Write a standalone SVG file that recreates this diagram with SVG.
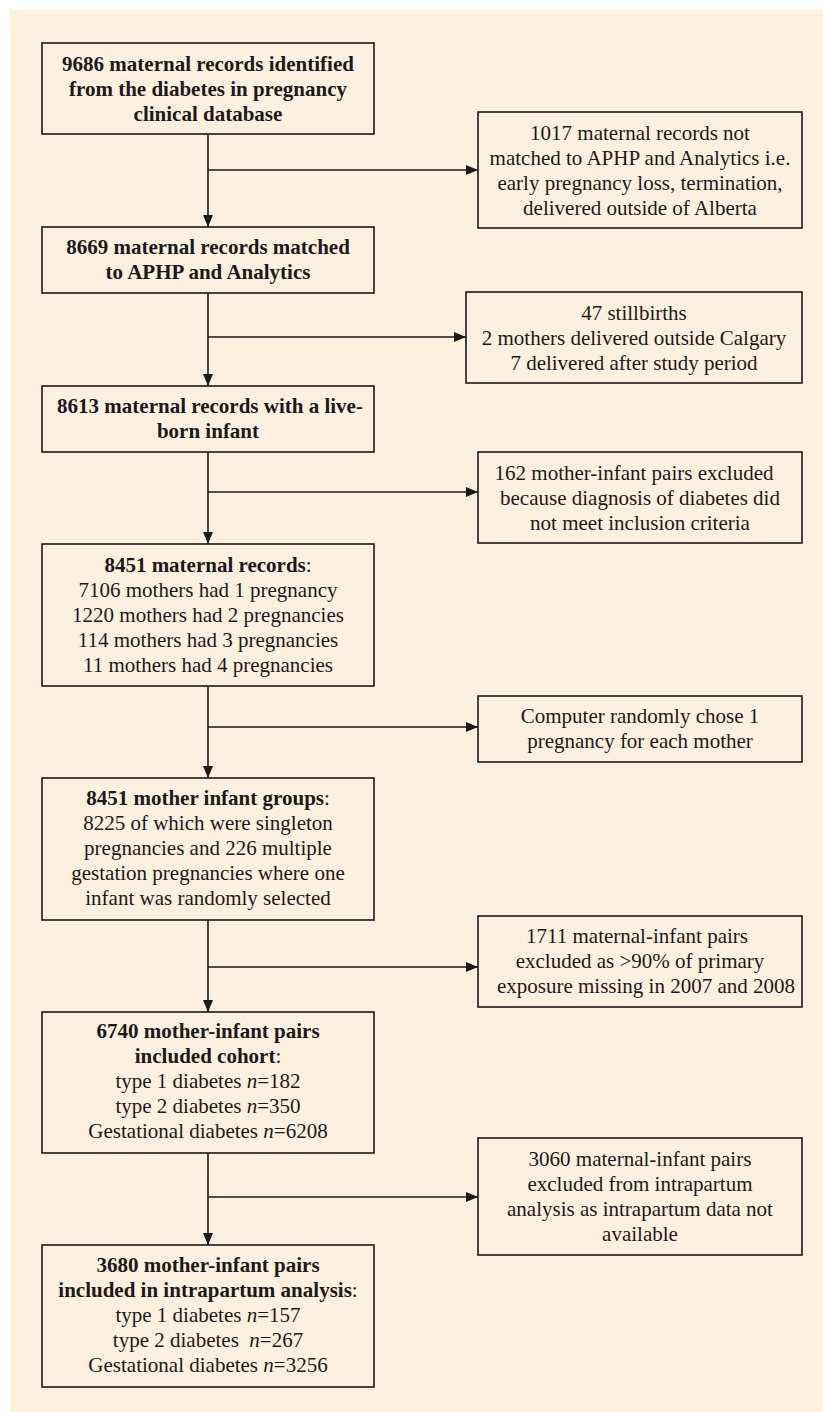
<svg xmlns="http://www.w3.org/2000/svg" width="823" height="1412" viewBox="0 0 823 1412">
<style>
.box{fill:#FDF0DF;stroke:#1a1a1a;stroke-width:1.6}
.t{font-family:"Liberation Serif","Times New Roman",serif;font-size:21px;fill:#1a1a1a;text-anchor:middle}
.b{font-weight:bold}
.i{font-style:italic}
.c{stroke:#1a1a1a;stroke-width:1.6;fill:none}
</style>
<defs>
<marker id="ah" markerUnits="userSpaceOnUse" markerWidth="12" markerHeight="10" refX="12" refY="5" orient="auto">
<path d="M0,0 L12,5 L0,10 z" fill="#1a1a1a"/>
</marker>
</defs>
<rect x="10" y="10" width="813" height="1402" fill="#FDF0DF"/>
<g id="connectors">
<line class="c" x1="208" y1="134" x2="208" y2="227" marker-end="url(#ah)"/>
<line class="c" x1="208" y1="170" x2="478" y2="170" marker-end="url(#ah)"/>
<line class="c" x1="208" y1="293" x2="208" y2="386" marker-end="url(#ah)"/>
<line class="c" x1="208" y1="337" x2="466" y2="337" marker-end="url(#ah)"/>
<line class="c" x1="208" y1="452" x2="208" y2="544" marker-end="url(#ah)"/>
<line class="c" x1="208" y1="492" x2="478" y2="492" marker-end="url(#ah)"/>
<line class="c" x1="208" y1="686" x2="208" y2="778" marker-end="url(#ah)"/>
<line class="c" x1="208" y1="727" x2="478" y2="727" marker-end="url(#ah)"/>
<line class="c" x1="208" y1="920" x2="208" y2="1012" marker-end="url(#ah)"/>
<line class="c" x1="208" y1="967" x2="478" y2="967" marker-end="url(#ah)"/>
<line class="c" x1="208" y1="1153" x2="208" y2="1245" marker-end="url(#ah)"/>
<line class="c" x1="208" y1="1197" x2="478" y2="1197" marker-end="url(#ah)"/>
</g>
<g id="n1">
<rect class="box" x="42" y="43" width="332" height="91"/>
<text class="t b" x="208" y="71">9686 maternal records identified</text>
<text class="t b" x="208" y="96">from the diabetes in pregnancy</text>
<text class="t b" x="208" y="121">clinical database</text>
</g>
<g id="n2">
<rect class="box" x="42" y="227" width="332" height="66"/>
<text class="t b" x="208" y="254">8669 maternal records matched</text>
<text class="t b" x="208" y="279">to APHP and Analytics</text>
</g>
<g id="n3">
<rect class="box" x="42" y="386" width="332" height="66"/>
<text class="t b" x="210" y="413">8613 maternal records with a live-</text>
<text class="t b" x="208" y="438">born infant</text>
</g>
<g id="n4">
<rect class="box" x="42" y="544" width="332" height="142"/>
<text class="t" x="208" y="572"><tspan class="b">8451 maternal records</tspan>:</text>
<text class="t" x="208" y="597">7106 mothers had 1 pregnancy</text>
<text class="t" x="208" y="622">1220 mothers had 2 pregnancies</text>
<text class="t" x="208" y="647">114 mothers had 3 pregnancies</text>
<text class="t" x="208" y="672">11 mothers had 4 pregnancies</text>
</g>
<g id="n5">
<rect class="box" x="42" y="778" width="332" height="142"/>
<text class="t" x="208" y="805"><tspan class="b">8451 mother infant groups</tspan>:</text>
<text class="t" x="208" y="830">8225 of which were singleton</text>
<text class="t" x="208" y="855">pregnancies and 226 multiple</text>
<text class="t" x="208" y="880">gestation pregnancies where one</text>
<text class="t" x="208" y="905">infant was randomly selected</text>
</g>
<g id="n6">
<rect class="box" x="42" y="1012" width="332" height="141"/>
<text class="t b" x="208" y="1038">6740 mother-infant pairs</text>
<text class="t" x="208" y="1063"><tspan class="b">included cohort</tspan>:</text>
<text class="t" x="208" y="1088">type 1 diabetes <tspan class="i">n</tspan>=182</text>
<text class="t" x="208" y="1113">type 2 diabetes <tspan class="i">n</tspan>=350</text>
<text class="t" x="208" y="1138">Gestational diabetes <tspan class="i">n</tspan>=6208</text>
</g>
<g id="n7">
<rect class="box" x="42" y="1245" width="332" height="142"/>
<text class="t b" x="208" y="1272">3680 mother-infant pairs</text>
<text class="t" x="208" y="1297"><tspan class="b">included in intrapartum analysis</tspan>:</text>
<text class="t" x="208" y="1322">type 1 diabetes <tspan class="i">n</tspan>=157</text>
<text class="t" x="208" y="1347">type 2 diabetes &#160;<tspan class="i">n</tspan>=267</text>
<text class="t" x="208" y="1372">Gestational diabetes <tspan class="i">n</tspan>=3256</text>
</g>
<g id="r1">
<rect class="box" x="478" y="112" width="324" height="116"/>
<text class="t" x="640" y="140">1017 maternal records not</text>
<text class="t" x="640" y="165">matched to APHP and Analytics i.e.</text>
<text class="t" x="640" y="190">early pregnancy loss, termination,</text>
<text class="t" x="640" y="215">delivered outside of Alberta</text>
</g>
<g id="r2">
<rect class="box" x="466" y="292" width="336" height="91"/>
<text class="t" x="634" y="320">47 stillbirths</text>
<text class="t" x="634" y="345">2 mothers delivered outside Calgary</text>
<text class="t" x="634" y="370">7 delivered after study period</text>
</g>
<g id="r3">
<rect class="box" x="478" y="452" width="324" height="91"/>
<text class="t" x="634" y="480">162 mother-infant pairs excluded</text>
<text class="t" x="640" y="505">because diagnosis of diabetes did</text>
<text class="t" x="640" y="530">not meet inclusion criteria</text>
</g>
<g id="r4">
<rect class="box" x="478" y="696" width="324" height="66"/>
<text class="t" x="640" y="723">Computer randomly chose 1</text>
<text class="t" x="640" y="748">pregnancy for each mother</text>
</g>
<g id="r5">
<rect class="box" x="478" y="916" width="324" height="91"/>
<text class="t" x="637" y="943">1711 maternal-infant pairs</text>
<text class="t" x="640" y="968">excluded as &gt;90% of primary</text>
<text class="t" x="646" y="993">exposure missing in 2007 and 2008</text>
</g>
<g id="r6">
<rect class="box" x="478" y="1138" width="324" height="117"/>
<text class="t" x="640" y="1166">3060 maternal-infant pairs</text>
<text class="t" x="640" y="1191">excluded from intrapartum</text>
<text class="t" x="640" y="1216">analysis as intrapartum data not</text>
<text class="t" x="640" y="1241">available</text>
</g>
</svg>
